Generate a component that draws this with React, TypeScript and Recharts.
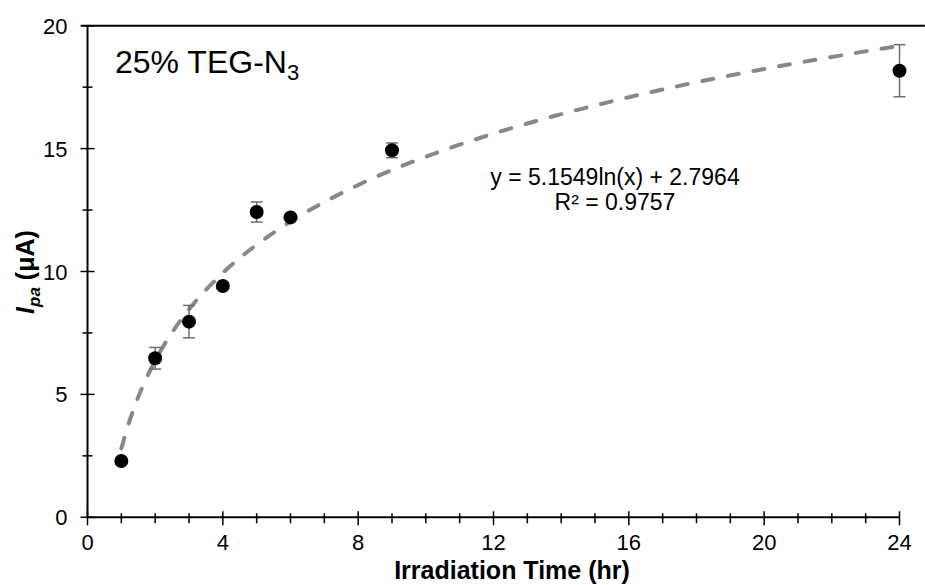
import { ComposedChart, Scatter, Line, XAxis, YAxis, ErrorBar, ReferenceLine, Customized } from "recharts";

const FONT = "'Liberation Sans', Arial, sans-serif";

// measured points
const hours = [1, 2, 3, 4, 5, 6, 9, 24];
const current = [2.29, 6.47, 7.96, 9.41, 12.42, 12.2, 14.93, 18.17];
const currentErr = [0.08, 0.44, 0.66, 0.12, 0.41, 0.08, 0.3, 1.06];

// dashed log trendline
const trendHours = [1, 1.25, 1.5, 2, 2.5, 3, 4, 5, 6, 8, 10, 12, 14, 16, 18, 20, 22, 24];
const trendCurrent = [2.8, 3.95, 4.89, 6.37, 7.52, 8.46, 9.94, 11.09, 12.03, 13.52, 14.67, 15.61, 16.4, 17.09, 17.7, 18.24, 18.73, 19.18];

const xTicks = [0, 1, 2, 3, 4, 5, 6, 7, 8, 9, 10, 11, 12, 13, 14, 15, 16, 17, 18, 19, 20, 21, 22, 23, 24];
const yTicks = [0, 2.5, 5, 7.5, 10, 12.5, 15, 17.5, 20];

const points = hours.map((x, i) => ({ x, y: current[i], err: currentErr[i] }));
const trend = trendHours.map((x, i) => ({ x, y: trendCurrent[i] }));

function XTick(props: any) {
  const { x, y, payload } = props;
  const v = payload.value;
  const major = v % 4 === 0;
  return (
    <g>
      <line x1={x} x2={x} y1={y - (major ? 6 : 4)} y2={y + (major ? 8 : 6)} stroke="#000" strokeWidth={1.5} />
      {major && (
        <text x={x} y={y + 33} textAnchor="middle" fontSize={22} fontFamily={FONT} fill="#000">
          {v}
        </text>
      )}
    </g>
  );
}

function YTick(props: any) {
  const { x, y, payload } = props;
  const v = payload.value;
  const major = v % 5 === 0;
  return (
    <g>
      <line x1={x - (major ? 7 : 5)} x2={x + (major ? 7 : 5)} y1={y} y2={y} stroke="#000" strokeWidth={1.5} />
      {major && (
        <text x={x - 20} y={y + 8} textAnchor="end" fontSize={22} fontFamily={FONT} fill="#000">
          {v}
        </text>
      )}
    </g>
  );
}

function Labels() {
  return (
    <g fontFamily={FONT} fill="#000">
      <text x={115} y={73} fontSize={32}>
        25% TEG-N<tspan fontSize={22} dy={7}>3</tspan>
      </text>
      <text x={615} y={185} textAnchor="middle" fontSize={23}>y = 5.1549ln(x) + 2.7964</text>
      <text x={615} y={210} textAnchor="middle" fontSize={23}>R² = 0.9757</text>
      <text x={512} y={579} textAnchor="middle" fontSize={25} fontWeight="bold">Irradiation Time (hr)</text>
      <text transform="translate(34 272) rotate(-90)" textAnchor="middle" fontSize={25} fontWeight="bold">
        <tspan fontStyle="italic">I</tspan>
        <tspan fontStyle="italic" fontSize={17} dy={6}>pa</tspan>
        <tspan dy={-6}> (μA)</tspan>
      </text>
    </g>
  );
}

export default function App() {
  return (
    <div style={{ position: "absolute", left: 0, top: 0, background: "#fff" }}>
      <ComposedChart
        width={925}
        height={585}
        margin={{ top: 25.7, right: 25.5, bottom: 66.7, left: 86.5 }}
      >
        <XAxis
          dataKey="x"
          type="number"
          domain={[0, 24]}
          ticks={xTicks}
          interval={0}
          height={1}
          tickSize={0}
          tickMargin={0}
          tickLine={false}
          tick={XTick}
          axisLine={{ stroke: "#000", strokeWidth: 2 }}
        />
        <YAxis
          dataKey="y"
          type="number"
          domain={[0, 20]}
          ticks={yTicks}
          interval={0}
          width={1}
          tickSize={0}
          tickMargin={0}
          tickLine={false}
          tick={YTick}
          axisLine={{ stroke: "#000", strokeWidth: 2 }}
        />
        <ReferenceLine
          segment={[{ x: -0.19, y: 20 }, { x: 24.75, y: 20 }]}
          ifOverflow="visible"
          stroke="#000"
          strokeWidth={2}
        />
        <Line
          data={trend}
          dataKey="y"
          type="monotone"
          stroke="#888888"
          strokeWidth={4}
          strokeDasharray="11 15"
          strokeLinecap="round"
          dot={false}
          activeDot={false}
          isAnimationActive={false}
        />
        {/* error bars first so the dots sit on top of them */}
        <Scatter
          name="err"
          data={points}
          dataKey="y"
          isAnimationActive={false}
          shape={() => <g />}
        >
          <ErrorBar dataKey="err" direction="y" width={6} stroke="#6e6e6e" strokeWidth={1.5} isAnimationActive={false} />
        </Scatter>
        <Scatter
          name="Ipa"
          data={points}
          dataKey="y"
          fill="#000"
          isAnimationActive={false}
          shape={(p: any) => <circle cx={p.cx} cy={p.cy} r={7} fill="#000" />}
        />
        <Customized component={Labels} />
      </ComposedChart>
    </div>
  );
}
